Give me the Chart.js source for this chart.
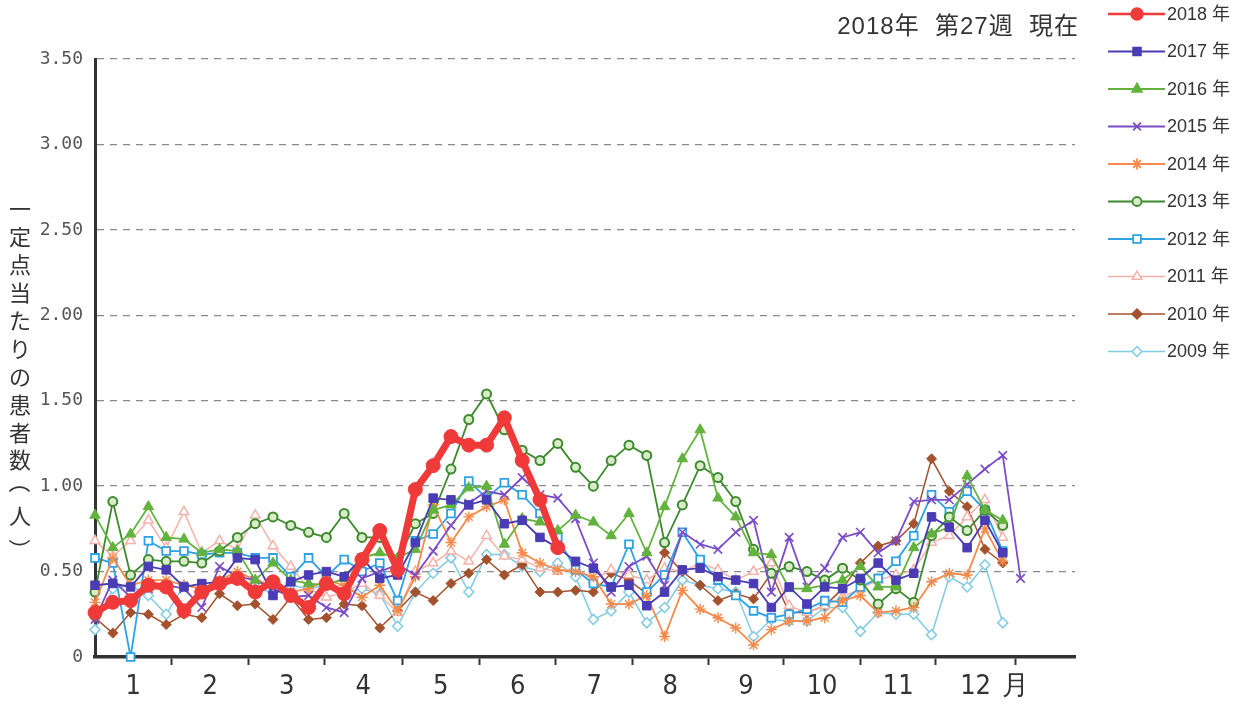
<!DOCTYPE html>
<html><head><meta charset="utf-8">
<style>html,body{margin:0;padding:0;background:#fff;overflow:hidden}#c{display:block}</style>
<script src="https://cdn.jsdelivr.net/npm/chart.js"></script>
</head><body>
<canvas id="c" width="1253" height="709"></canvas>
<script>
// ---- data ----
const weeks = [1,2,3,4,5,6,7,8,9,10,11,12,13,14,15,16,17,18,19,20,21,22,23,24,25,26,27,28,29,30,31,32,33,34,35,36,37,38,39,40,41,42,43,44,45,46,47,48,49,50,51,52,53];
const seriesLabels = ['2018 年','2017 年','2016 年','2015 年','2014 年','2013 年','2012 年','2011 年','2010 年','2009 年'];
const y2018 = [0.26,0.32,0.33,0.42,0.41,0.27,0.38,0.43,0.46,0.38,0.44,0.36,0.29,0.43,0.37,0.57,0.74,0.51,0.98,1.12,1.29,1.24,1.24,1.40,1.15,0.92,0.64];
const y2017 = [0.42,0.43,0.41,0.53,0.51,0.41,0.43,0.44,0.58,0.57,0.36,0.44,0.48,0.50,0.47,0.58,0.46,0.48,0.67,0.93,0.92,0.89,0.92,0.78,0.80,0.70,0.64,0.56,0.52,0.41,0.42,0.30,0.38,0.51,0.52,0.47,0.45,0.43,0.29,0.41,0.31,0.41,0.40,0.46,0.55,0.45,0.49,0.82,0.76,0.64,0.80,0.61];
const y2016 = [0.83,0.64,0.72,0.88,0.70,0.69,0.61,0.63,0.62,0.45,0.55,0.45,0.43,0.42,0.46,0.58,0.61,0.58,0.63,0.86,0.89,0.99,1.00,0.66,0.81,0.79,0.74,0.83,0.79,0.71,0.84,0.61,0.88,1.16,1.33,0.93,0.82,0.61,0.60,0.40,0.40,0.42,0.45,0.53,0.41,0.41,0.64,0.72,0.76,1.06,0.86,0.80];
const y2015 = [0.22,0.45,0.35,0.40,0.42,0.40,0.29,0.53,0.47,0.45,0.40,0.35,0.36,0.29,0.26,0.46,0.50,0.54,0.48,0.62,0.77,0.90,0.97,0.95,1.05,0.95,0.93,0.81,0.55,0.38,0.53,0.59,0.42,0.73,0.66,0.63,0.73,0.80,0.38,0.70,0.41,0.52,0.70,0.73,0.61,0.68,0.91,0.92,0.92,1.01,1.10,1.18,0.46];
const y2014 = [0.32,0.58,0.42,0.45,0.45,0.42,0.40,0.45,0.50,0.45,0.42,0.38,0.40,0.45,0.42,0.35,0.42,0.27,0.47,0.89,0.67,0.82,0.88,0.92,0.61,0.55,0.51,0.50,0.47,0.31,0.31,0.36,0.12,0.39,0.28,0.23,0.17,0.07,0.16,0.21,0.21,0.23,0.33,0.36,0.26,0.27,0.29,0.44,0.49,0.48,0.75,0.56];
const y2013 = [0.38,0.91,0.48,0.57,0.56,0.56,0.55,0.62,0.70,0.78,0.82,0.77,0.73,0.70,0.84,0.70,0.70,0.57,0.78,0.84,1.10,1.39,1.54,1.33,1.21,1.15,1.25,1.11,1.00,1.15,1.24,1.18,0.67,0.89,1.12,1.05,0.91,0.63,0.49,0.53,0.50,0.45,0.52,0.45,0.31,0.40,0.32,0.71,0.82,0.74,0.86,0.77];
const y2012 = [0.58,0.55,0.00,0.68,0.62,0.62,0.60,0.61,0.61,0.58,0.58,0.47,0.58,0.47,0.57,0.50,0.55,0.33,0.68,0.72,0.84,1.03,0.93,1.02,0.95,0.84,0.70,0.51,0.43,0.41,0.66,0.38,0.48,0.73,0.57,0.45,0.36,0.27,0.23,0.25,0.28,0.33,0.32,0.41,0.46,0.56,0.71,0.95,0.85,0.97,0.86,0.62];
const y2011 = [0.68,0.59,0.68,0.80,0.64,0.85,0.61,0.68,0.63,0.83,0.65,0.53,0.40,0.35,0.38,0.43,0.36,0.26,0.50,0.55,0.62,0.56,0.71,0.59,0.57,0.52,0.50,0.52,0.45,0.51,0.48,0.45,0.52,0.50,0.55,0.51,0.45,0.50,0.55,0.30,0.26,0.30,0.35,0.40,0.45,0.48,0.51,0.67,0.71,0.82,0.92,0.70];
const y2010 = [0.23,0.14,0.26,0.25,0.19,0.25,0.23,0.37,0.30,0.31,0.22,0.35,0.22,0.23,0.31,0.30,0.17,0.27,0.38,0.33,0.43,0.49,0.57,0.48,0.54,0.38,0.38,0.39,0.38,0.49,0.45,0.37,0.61,0.50,0.42,0.33,0.37,0.34,0.49,0.26,0.26,0.30,0.40,0.55,0.65,0.68,0.78,1.16,0.97,0.88,0.63,0.55];
const y2009 = [0.16,0.40,0.42,0.36,0.25,0.42,0.40,0.42,0.45,0.40,0.38,0.42,0.40,0.42,0.38,0.40,0.37,0.18,0.38,0.49,0.58,0.38,0.60,0.60,0.53,0.50,0.55,0.47,0.22,0.27,0.38,0.20,0.29,0.45,0.42,0.40,0.38,0.12,0.22,0.21,0.21,0.29,0.29,0.15,0.26,0.25,0.25,0.13,0.47,0.41,0.54,0.20];
const monthLabels = ['1','2','3','4','5','6','7','8','9','10','11','12'];
const monthUnit = '月';
const monthEnds = [5.3,9.65,13.9,18.25,22.6,26.9,31.2,35.45,39.7,44.0,48.25,52.7];
const yTicks = [0,0.5,1.0,1.5,2.0,2.5,3.0,3.5];
const titleText = '2018年  第27週  現在';
const yTitle = '一定点当たりの患者数（人）';

// ---- styles ----
const styles = [
  {c:'#f03a3a', ps:'circle',   r:7,   lw:7,   fill:'#f03a3a', pbw:1},
  {c:'#4a3cb4', ps:'rect',     r:6,   lw:1.8, fill:'#4a3cb4', pbw:1},
  {c:'#62b23e', ps:'triangle', r:6,   lw:1.8, fill:'#62b23e', pbw:1},
  {c:'#7b4cc8', ps:'crossRot', r:6,   lw:1.8, fill:'#7b4cc8', pbw:1.6},
  {c:'#f58a4a', ps:'star',     r:5.5, lw:1.8, fill:'#f58a4a', pbw:1.4},
  {c:'#3d8a2e', ps:'circle',   r:4.5, lw:1.8, fill:'#d9ecc9', pbw:2},
  {c:'#2fa2e6', ps:'rect',     r:5.5, lw:1.8, fill:'#ffffff', pbw:1.8},
  {c:'#f5b2aa', ps:'triangle', r:5.5, lw:1.5, fill:'#ffffff', pbw:1.5},
  {c:'#a4522e', ps:'rectRot',  r:5,   lw:1.5, fill:'#a4522e', pbw:1},
  {c:'#7fcbe3', ps:'rectRot',  r:5,   lw:1.5, fill:'#ffffff', pbw:1.5}
];
const seriesValues = [y2018,y2017,y2016,y2015,y2014,y2013,y2012,y2011,y2010,y2009];

const datasets = seriesValues.map((vals, i) => {
  const s = styles[i];
  return {
    label: seriesLabels[i],
    data: vals.map((v, k) => ({x: weeks[k], y: v})),
    borderColor: s.c, backgroundColor: s.fill,
    borderWidth: s.lw, pointStyle: s.ps, pointRadius: s.r,
    pointBackgroundColor: s.fill, pointBorderColor: s.c, pointBorderWidth: s.pbw,
    tension: 0, clip: false
  };
});

// x ticks: month midpoints (labels) and month boundaries (tick marks)
const xTickList = [];
monthEnds.forEach((e, i) => {
  const start = i === 0 ? weeks[0] : monthEnds[i-1];
  xTickList.push({value: (start + e) / 2, label: monthLabels[i], mark: false});
  xTickList.push({value: e, label: i === monthEnds.length - 1 ? monthUnit : '', mark: true});
});

const decorPlugin = {
  id: 'decor',
  afterDraw(chart) {
    const ctx = chart.ctx;
    ctx.save();
    // title
    ctx.fillStyle = '#333';
    ctx.font = '24px "Liberation Sans", "Noto Sans CJK JP", sans-serif';
    if ('letterSpacing' in ctx) ctx.letterSpacing = '1px';
    ctx.textAlign = 'right'; ctx.textBaseline = 'middle';
    ctx.fillText(titleText, 1079, 27);
    if ('letterSpacing' in ctx) ctx.letterSpacing = '0px';
    // vertical y title
    ctx.font = '22px "Noto Sans CJK JP", sans-serif';
    ctx.textAlign = 'center';
    const chars = Array.from(yTitle);
    chars.forEach((ch, i) => {
      const cy = 209 + i * 27.9;
      if (ch === '（' || ch === '）') {
        ctx.save(); ctx.translate(20, cy + (ch === '（' ? -6 : 6)); ctx.rotate(Math.PI / 2);
        ctx.fillText(ch, 0, 0); ctx.restore();
      } else {
        ctx.fillText(ch, 20, cy);
      }
    });
    // legend
    chart.data.datasets.forEach((d, i) => {
      const y = 14 + i * 37.5;
      ctx.strokeStyle = d.borderColor;
      ctx.lineWidth = Math.min(d.borderWidth, 2.5);
      ctx.beginPath(); ctx.moveTo(1108, y); ctx.lineTo(1165, y); ctx.stroke();
      ctx.fillStyle = d.pointBackgroundColor;
      ctx.strokeStyle = d.pointBorderColor;
      Chart.helpers.drawPoint(ctx, {pointStyle: d.pointStyle, radius: Math.min(d.pointRadius, 5.5), borderWidth: d.pointBorderWidth, rotation: 0}, 1137, y);
      ctx.fillStyle = '#333';
      ctx.font = '18px "Liberation Sans", "Noto Sans CJK JP", sans-serif';
      ctx.textAlign = 'left'; ctx.textBaseline = 'middle';
      ctx.fillText(d.label, 1167, y + 1);
    });
    ctx.restore();
  }
};

new Chart(document.getElementById('c'), {
  type: 'line',
  data: {datasets},
  plugins: [decorPlugin],
  options: {
    responsive: false, animation: false,
    layout: {padding: {top: 59, right: 178, left: 0, bottom: 0}},
    plugins: {legend: {display: false}, tooltip: {enabled: false}},
    scales: {
      x: {
        type: 'linear', min: 1, max: 56.06,
        afterFit(s) { s.height = 52; },
        afterBuildTicks(s) { s.ticks = xTickList.map(t => ({value: t.value})); },
        ticks: {
          autoSkip: false, maxRotation: 0, padding: 6, color: '#333',
          font: {family: '"Liberation Sans Narrow", "DejaVu Sans Condensed", sans-serif', size: 27},
          callback: (v, i) => xTickList[i] ? xTickList[i].label : ''
        },
        grid: {
          drawOnChartArea: false, drawTicks: true, tickLength: 8, tickWidth: 2,
          tickColor: c => (xTickList[c.index] && xTickList[c.index].mark) ? '#333' : 'rgba(0,0,0,0)',
          color: 'rgba(0,0,0,0)'
        },
        border: {display: true, width: 3.5, color: '#333'}
      },
      y: {
        min: 0, max: 3.5,
        afterFit(s) { s.width = 95; },
        afterBuildTicks(s) { s.ticks = yTicks.map(v => ({value: v})); },
        ticks: {
          padding: 12, color: '#555',
          font: {family: '"DejaVu Sans Mono", monospace', size: 18},
          callback: v => v === 0 ? '0' : Number(v).toFixed(2)
        },
        grid: {drawTicks: false, color: '#8a8a8a', lineWidth: 1.3},
        border: {display: true, width: 3, color: '#333', dash: [7, 6]}
      }
    }
  }
});
</script>
</body></html>
